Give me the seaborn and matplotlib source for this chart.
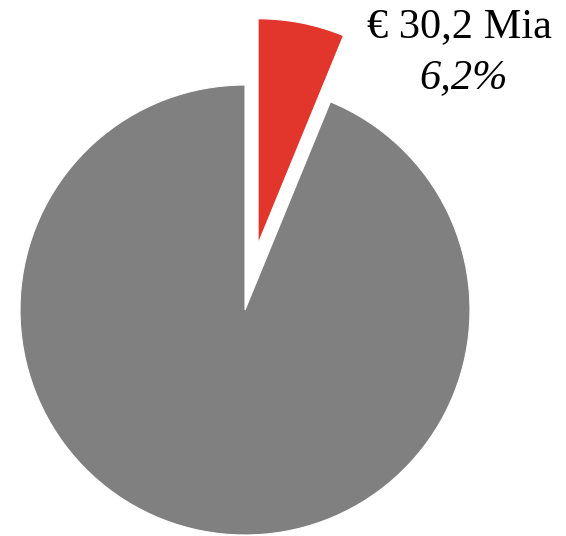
import matplotlib
matplotlib.use("Agg")
import matplotlib.pyplot as plt
import seaborn as sns

# Share of the total (percent)
labels = ["Segment", "Rest"]
shares = [6.2, 93.8]
amount_label = "€ 30,2 Mia"
share_label = "6,2%"
colors = ["#E2352B", "#808080"]

sns.set_theme(style="white")
plt.rcParams["font.family"] = ["Liberation Serif", "DejaVu Serif"]

fig = plt.figure(figsize=(5.66, 5.36), dpi=100)
ax = fig.add_axes([0, 0, 1, 1])

# pie centre at pixel (245, 310), radius 225 px
R = 225.0
def px(x, y):
    return (x - 245) / R, (310 - y) / R

ax.pie(shares, colors=colors, startangle=90, counterclock=False,
       explode=[0.30, 0], radius=1.0,
       wedgeprops={"linewidth": 0.8, "edgecolor": "white"})

ax.set_xlim(*sorted([px(0, 0)[0], px(566, 0)[0]]))
ax.set_ylim(px(0, 536)[1], px(0, 0)[1])
ax.set_aspect("auto")
ax.axis("off")

x1, y1 = px(459, 37)
ax.text(x1, y1, amount_label, ha="center", va="baseline", fontsize=30.5, color="black")
x2, y2 = px(463, 88)
ax.text(x2, y2, share_label, ha="center", va="baseline", fontsize=30.5,
        style="italic", color="black")

fig.savefig("out.png", dpi=100, facecolor="white")
